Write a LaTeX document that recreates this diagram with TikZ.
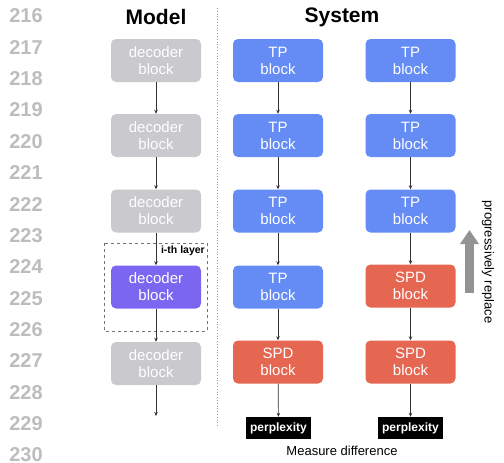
\documentclass[tikz,border=0pt]{standalone}
\usepackage{fontspec}
\setmainfont{Liberation Sans}
\usetikzlibrary{arrows.meta}
\definecolor{dec-gray}{HTML}{C9C9CE}
\definecolor{dec-purple}{HTML}{7B66F2}
\definecolor{tp-blue}{HTML}{648CF4}
\definecolor{spd-red}{HTML}{E56752}
\definecolor{num-gray}{HTML}{BDBDBD}

\begin{document}
\begin{tikzpicture}[x=1pt, y=-1pt,
        every node/.style={font=\fontsize{15}{17}\selectfont},
        blk/.style={rounded corners=5pt, minimum width=90pt, minimum height=43pt,
            align=center, text=white, inner sep=0pt},
        dec/.style={blk, fill=dec-gray},
        tp/.style={blk, fill=tp-blue},
        spd/.style={blk, fill=spd-red},
        ppl/.style={fill=black, text=white, minimum width=65pt, minimum height=22pt,
            inner sep=0pt, font=\fontsize{12}{14}\selectfont\bfseries},
        title/.style={font=\fontsize{21}{23}\selectfont\bfseries},
        lineno/.style={text=num-gray, font=\fontsize{20}{22}\selectfont\bfseries},
        flow/.style={-{Stealth[length=4pt,width=3.5pt]}, draw=black!80, line width=0.7pt}]
      \useasboundingbox (0,0) rectangle (504,463);
      % line numbers
      \foreach \n [count=\i from 0] in {216,...,230}
        \node[lineno] (ln\n) at (26,16+31.36*\i) {\n};
      % titles
      \node[title] (tmodel) at (156,17) {Model};
      \node[title] (tsys) at (342,17) {System};
      \draw[num-gray!80!black, dotted, line width=0.8pt] (217,8) -- (217,428);
      % model column
      \node[dec] (D1) at (156,60.5) {decoder\\block};
      \node[dec] (D2) at (156,135.5) {decoder\\block};
      \node[dec] (D3) at (156,211) {decoder\\block};
      \node[blk, fill=dec-purple] (D4) at (156,287) {decoder\\block};
      \node[dec] (D5) at (156,363.5) {decoder\\block};
      \coordinate (Dout) at (156,416);
      \draw[gray!90!black, dashed, line width=0.8pt] (104,243) rectangle (207,331);
      \node[anchor=north east, inner sep=1pt, font=\fontsize{10.5}{12}\selectfont\bfseries] (ith) at (206,245) {i-th layer};
      \draw[flow] (D1) -- (D2);
      \draw[flow] (D2) -- (D3);
      \draw[flow] (D3) -- (D4);
      \draw[flow] (D4) -- (D5);
      \draw[flow] (D5) -- (Dout);
      % system, first column
      \node[tp] (A1) at (278,60.5) {TP\\block};
      \node[tp] (A2) at (278,135.5) {TP\\block};
      \node[tp] (A3) at (278,211) {TP\\block};
      \node[tp] (A4) at (278,287) {TP\\block};
      \node[spd] (A5) at (278,362) {SPD\\block};
      \node[ppl] (Ap) at (278.5,428) {perplexity};
      \draw[flow] (A1) -- (A2);
      \draw[flow] (A2) -- (A3);
      \draw[flow] (A3) -- (A4);
      \draw[flow] (A4) -- (A5);
      \draw[flow] (A5) -- (Ap);
      % system, second column
      \node[tp] (B1) at (410.5,60.5) {TP\\block};
      \node[tp] (B2) at (410.5,135.5) {TP\\block};
      \node[tp] (B3) at (410.5,211) {TP\\block};
      \node[spd] (B4) at (410.5,286) {SPD\\block};
      \node[spd] (B5) at (410.5,362) {SPD\\block};
      \node[ppl] (Bp) at (410.5,428) {perplexity};
      \draw[flow] (B1) -- (B2);
      \draw[flow] (B2) -- (B3);
      \draw[flow] (B3) -- (B4);
      \draw[flow] (B4) -- (B5);
      \draw[flow] (B5) -- (Bp);
      \node[font=\fontsize{13}{15}\selectfont] (meas) at (342,451) {Measure difference};
      % progressively replace
      \coordinate (Rlow) at (469.5,293);
      \coordinate (Rtop) at (469.5,230);
      \draw[-{Triangle[length=14pt,width=18pt]}, line width=9pt, draw=gray!85] (Rlow) -- (Rtop);
      \node[rotate=-90, font=\fontsize{13}{15}\selectfont] (prog) at (488,262) {progressively replace};
    \end{tikzpicture}
\end{document}
